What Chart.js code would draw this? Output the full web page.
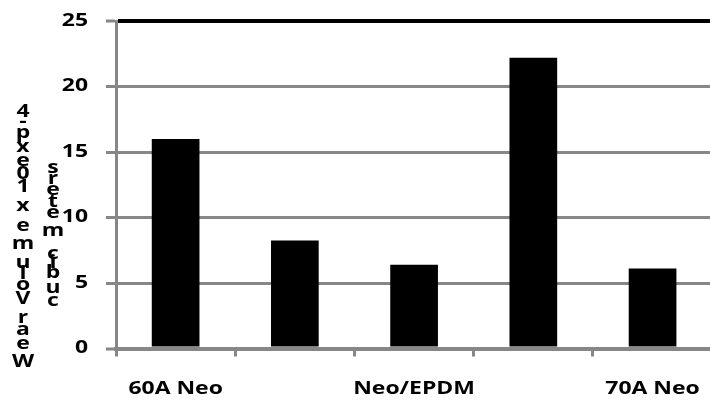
<!DOCTYPE html>
<html>
<head>
<meta charset="utf-8">
<script src="https://cdn.jsdelivr.net/npm/chart.js@4/dist/chart.umd.min.js"></script>
<style>
  html, body { margin: 0; padding: 0; background: #fff; overflow: hidden; width: 710px; height: 403px; }
  #wrap { position: relative; width: 722px; height: 403px; }
  canvas { display: block; }
</style>
</head>
<body>
<div id="wrap"><canvas id="c" width="722" height="403"></canvas></div>
<script>
// Wear volume per material (x 10^-4 cubic meters)
const categories = ['60A Neo', '', 'Neo/EPDM', '', '70A Neo'];
const wearVolume = [16, 8.25, 6.4, 22.2, 6.1];
const yTicks = [0, 5, 10, 15, 20, 25];
const yTitleMain = 'Wear Volume x 10exp-4';
const yTitleUnit = 'cubic meters';

const FONT_FAMILY = 'Open Sans';
const GRID_GREY = '#878787';
const TEXT_STRETCH = 1.35;

// Draw all canvas text slightly widened horizontally.
function widenText(ctx, sx) {
  const fill = ctx.fillText.bind(ctx);
  const measure = ctx.measureText.bind(ctx);
  ctx.fillText = (text, x, y) => {
    ctx.save();
    ctx.translate(x, y);
    ctx.scale(sx, 1);
    fill(text, 0, 0);
    ctx.restore();
  };
  ctx.measureText = (text) => {
    const m = measure(text);
    return {
      width: m.width * sx,
      actualBoundingBoxAscent: m.actualBoundingBoxAscent,
      actualBoundingBoxDescent: m.actualBoundingBoxDescent,
      actualBoundingBoxLeft: m.actualBoundingBoxLeft * sx,
      actualBoundingBoxRight: m.actualBoundingBoxRight * sx
    };
  };
}

// Axis title drawn as upright characters stacked bottom-to-top.
const stackedTitle = {
  id: 'stackedTitle',
  afterDraw(chart, args, opts) {
    const ctx = chart.ctx;
    ctx.save();
    ctx.font = opts.font;
    ctx.fillStyle = opts.color;
    ctx.textAlign = 'center';
    ctx.textBaseline = 'middle';
    opts.columns.forEach(col => {
      const chars = [...col.text];
      const widths = chars.map(ch => ctx.measureText(ch).width);
      const centres = [];
      let acc = 0;
      chars.forEach((ch, i) => { centres.push(acc + widths[i] / 2); acc += widths[i]; });
      const span = centres[centres.length - 1] - centres[0];
      const k = (col.bottom - col.top) / span;
      chars.forEach((ch, i) => {
        if (ch.trim()) ctx.fillText(ch, col.x, col.bottom - (centres[i] - centres[0]) * k);
      });
    });
    ctx.restore();
  }
};

function build() {
  const canvas = document.getElementById('c');
  const ctx = canvas.getContext('2d');
  widenText(ctx, TEXT_STRETCH);

  const tickFont = { family: FONT_FAMILY, size: 17, weight: 'bold' };

  new Chart(ctx, {
    type: 'bar',
    data: {
      labels: categories,
      datasets: [{
        data: wearVolume,
        backgroundColor: '#000',
        borderWidth: 0,
        barPercentage: 0.4,
        categoryPercentage: 1.0
      }]
    },
    options: {
      responsive: false,
      animation: false,
      devicePixelRatio: 1,
      layout: { padding: { top: 21, right: 2, bottom: 5, left: 0 } },
      plugins: {
        legend: { display: false },
        tooltip: { enabled: false },
        stackedTitle: {
          font: 'bold 17px "' + FONT_FAMILY + '"',
          color: '#000',
          columns: [
            { text: yTitleMain, x: 23, bottom: 362, top: 112 },
            { text: yTitleUnit, x: 53, bottom: 301, top: 168 }
          ]
        }
      },
      scales: {
        x: {
          offset: true,
          afterFit: (scale) => { scale.height = 49.5; },
          grid: {
            display: true,
            offset: true,
            drawOnChartArea: false,
            drawTicks: true,
            tickLength: 8,
            color: GRID_GREY,
            lineWidth: 3
          },
          border: { display: true, color: GRID_GREY, width: 4 },
          ticks: {
            autoSkip: false,
            maxRotation: 0,
            padding: 22,
            color: '#000',
            font: tickFont
          }
        },
        y: {
          min: 0,
          max: 25,
          afterBuildTicks: (scale) => { scale.ticks = yTicks.map(v => ({ value: v })); },
          afterFit: (scale) => {
            scale.width = 116;
            scale.paddingTop = 10;
            scale.paddingBottom = 10;
          },
          grid: {
            color: (c) => (c.tick && c.tick.value === 25 ? '#000' : GRID_GREY),
            lineWidth: (c) => (c.tick && (c.tick.value === 25 || c.tick.value === 0) ? 4 : 3),
            tickColor: GRID_GREY,
            tickWidth: 3,
            tickLength: 10,
            drawTicks: true
          },
          border: { display: true, color: GRID_GREY, width: 3 },
          ticks: {
            padding: 18,
            color: '#000',
            font: tickFont
          }
        }
      }
    },
    plugins: [stackedTitle]
  });
}

if (document.fonts && document.fonts.load) {
  document.fonts.load('bold 17px "' + FONT_FAMILY + '"').then(build, build);
} else {
  build();
}
</script>
</body>
</html>
